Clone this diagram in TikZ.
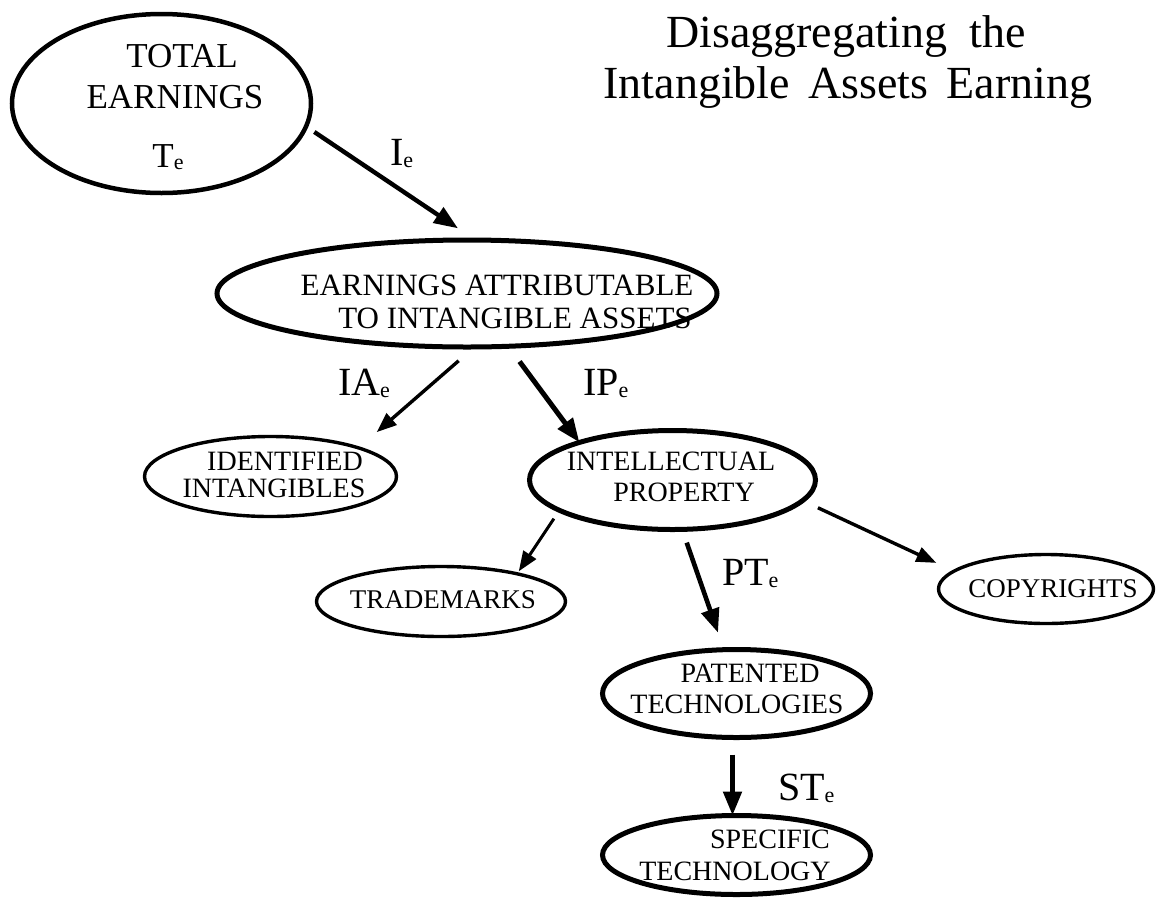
\documentclass[tikz,border=0pt]{standalone}
\usepackage{fontspec}
\setmainfont{Liberation Serif}
\newfontfamily\tnr{Liberation Serif}
\usetikzlibrary{shapes.geometric,arrows.meta}
\newcommand\lsub[1]{\raisebox{-2pt}{\fontsize{22}{22}\selectfont #1}}
\begin{document}
\begin{tikzpicture}[x=1pt,y=-1pt,
  ell/.style={ellipse, draw, inner sep=0pt, outer sep=0pt},
  thickell/.style={ell, line width=5pt},
  thinell/.style={ell, line width=3.4pt},
  arrthick/.style={-{Triangle[length=24pt,width=18pt]}, line width=4.6pt},
  arrthin/.style={-{Triangle[length=20pt,width=15pt]}, line width=3.4pt},
  txt/.style={anchor=base, inner sep=0pt, outer sep=0pt},
  lbl/.style={anchor=base west, inner sep=0pt, outer sep=0pt, font=\tnr\fontsize{40}{40}\selectfont},
  title/.style={txt, font=\tnr\fontsize{46}{50}\selectfont},
  big/.style={txt, font=\tnr\fontsize{35}{40}\selectfont},
  mid/.style={txt, font=\tnr\fontsize{31}{36}\selectfont},
  small/.style={txt, font=\tnr\fontsize{28}{32}\selectfont},
  smaller/.style={txt, font=\tnr\fontsize{27}{30}\selectfont},
]
\fill[white] (0,0) rectangle (1161,900);
\useasboundingbox (0,0) rectangle (1161,900);

% title
\node[title] (t1) at (846,47) {Disaggregating\hspace{0.49em}the};
\node[title] (t2) at (848,98) {Intangible\hspace{0.4em}Assets\hspace{0.4em}Earning};

% ellipses
\node[thickell, line width=4.5pt, minimum width=299pt, minimum height=179pt] (te) at (161.5,103.5) {};
\node[thickell, minimum width=500pt, minimum height=107pt] (ea) at (467,293.5) {};
\node[thinell, minimum width=252pt, minimum height=80pt] (idi) at (270.5,476.5) {};
\node[thickell, minimum width=286pt, minimum height=99pt] (ip) at (672.5,480) {};
\node[thinell, minimum width=249pt, minimum height=70pt] (tm) at (441,601.5) {};
\node[thinell, minimum width=215pt, minimum height=69pt] (cr) at (1046,589) {};
\node[thickell, minimum width=268pt, minimum height=88pt] (pt) at (736.5,693.5) {};
\node[thickell, minimum width=268pt, minimum height=79pt] (st) at (736.5,855) {};

% texts in ellipses
\node[big] (te1) at (182,67) {TOTAL};
\node[big] (te2) at (175,108) {EARNINGS};
\node[big] (te3) at (168,167) {T\lsub{e}};
\node[mid] (ea1) at (497,295) {EARNINGS ATTRIBUTABLE};
\node[mid] (ea2) at (515,328) {TO INTANGIBLE ASSETS};
\node[small] (idi1) at (285,470) {IDENTIFIED};
\node[small] (idi2) at (274,497) {INTANGIBLES};
\node[small] (ip1) at (671,470) {INTELLECTUAL};
\node[small] (ip2) at (684,501) {PROPERTY};
\node[smaller] (tm1) at (443,608) {TRADEMARKS};
\node[smaller] (cr1) at (1053,597) {COPYRIGHTS};
\node[small] (pt1) at (750,682) {PATENTED};
\node[small] (pt2) at (737,713) {TECHNOLOGIES};
\node[small] (st1) at (770,848) {SPECIFIC};
\node[small] (st2) at (735,880) {TECHNOLOGY};

% arrows
\draw[arrthick, line width=4.4pt, shorten <=10pt, shorten >=21pt] (te.-9.6) -- (ea.81.5);
\draw[arrthin, shorten <=21pt, shorten >=24pt] (ea.-82.6) -- (idi.18.1);
\draw[arrthick, line width=5pt, shorten <=19pt] (ea.-52.6) -- (ip.158.9);
\draw[arrthin, line width=3pt, shorten <=10pt, shorten >=3pt] (ip.-165.7) -- (tm.20.4);
\draw[arrthick, shorten <=14pt, shorten >=18pt] (ip.-79.5) -- (pt.106.3);
\draw[arrthin, shorten <=17pt, shorten >=19.5pt] (ip.-9) -- (cr.169.1);
\draw[arrthick, line width=5pt, shorten <=17pt] ([xshift=-4pt]pt.south) -- ([xshift=-4pt]st.north);

% labels
\node[lbl] (l1) at (390,165) {I\lsub{e}};
\node[lbl] (l2) at (338,395) {IA\lsub{e}};
\node[lbl] (l3) at (583,395) {IP\lsub{e}};
\node[lbl] (l4) at (722,585) {PT\lsub{e}};
\node[lbl] (l5) at (778,800) {ST\lsub{e}};
\end{tikzpicture}
\end{document}
